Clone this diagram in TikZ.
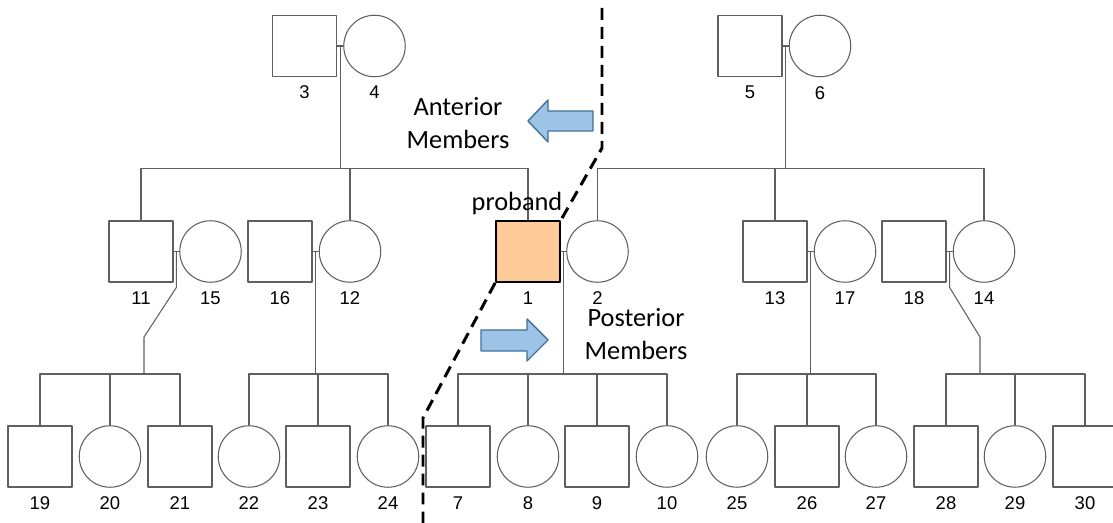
\documentclass[tikz,border=0pt]{standalone}
\usepackage{fontspec}
\setmainfont{Carlito}
\newfontfamily\numfont{Liberation Sans}
\usepackage{tikz}
\usetikzlibrary{calc}
\definecolor{probandfill}{RGB}{255,204,153}
\definecolor{arrowfill}{RGB}{157,195,230}
\definecolor{arrowedge}{RGB}{65,113,156}
\definecolor{kingray}{RGB}{95,95,95}

\begin{document}
\begin{tikzpicture}[line cap=round,line join=round,x=0.02cm,y=-0.02cm, line width=0.6pt,
    male/.style={rectangle, draw=kingray, minimum width=1.28cm, minimum height=1.22cm, inner sep=0pt},
    female/.style={circle, draw=kingray, minimum size=1.23cm, inner sep=0pt},
    proband/.style={male, draw=black, fill=probandfill, line width=1pt},
    kin/.style={draw=kingray},
    divider/.style={draw=black, line width=1.7pt, dash pattern=on 6.8pt off 4pt, line cap=butt},
    bigarrow/.style={draw=arrowedge, fill=arrowfill, line width=0.8pt},
    note/.style={align=center, font=\fontsize{15}{18.7}\selectfont},
    every label/.style={font=\numfont\fontsize{10.5}{12}\selectfont, inner sep=0pt},
    label distance=0.17cm]
                    \useasboundingbox (0,0) rectangle (1113,523);

                    \node[male, label={below:3}] (3) at (304.5,46) {};
                    \node[female, label={below:4}] (4) at (374.5,46) {};
                    \node[male, label={below:5}] (5) at (750,46) {};
                    \node[female, label={below:6}] (6) at (820,46) {};
                    \draw[kin] (3) -- (4);
                    \draw[kin] (5) -- (6);

                    \node[male, label={below:11}] (11) at (141,251.5) {};
                    \node[female, label={below:15}] (15) at (210.5,251.5) {};
                    \node[male, label={below:16}] (16) at (280,251.5) {};
                    \node[female, label={below:12}] (12) at (350,251.5) {};
                    \node[proband, label={below:1}] (1) at (528,251.5) {};
                    \node[female, label={below:2}] (2) at (597.5,251.5) {};
                    \node[male, label={below:13}] (13) at (775,251.5) {};
                    \node[female, label={below:17}] (17) at (845,251.5) {};
                    \node[male, label={below:18}] (18) at (914,251.5) {};
                    \node[female, label={below:14}] (14) at (984,251.5) {};

                    \draw[kin] ($(3.east)!0.5!(4.west)$) -- ++(0,122.5) coordinate (s34);
                    \draw[kin] (11.north) |- (s34) -| (1.north);
                    \draw[kin] (12.north) -- (12.north |- s34);
                    \draw[kin] ($(5.east)!0.5!(6.west)$) -- ++(0,122.5) coordinate (s56);
                    \draw[kin] (2.north) |- (s56) -| (14.north);
                    \draw[kin] (13.north) -- (13.north |- s56);

                    \node[male, label={below:19}] (19) at (40,456.5) {};
                    \node[female, label={below:20}] (20) at (110,456.5) {};
                    \node[male, label={below:21}] (21) at (180,456.5) {};
                    \node[female, label={below:22}] (22) at (249,456.5) {};
                    \node[male, label={below:23}] (23) at (318,456.5) {};
                    \node[female, label={below:24}] (24) at (388,456.5) {};
                    \node[male, label={below:7}] (7) at (458,456.5) {};
                    \node[female, label={below:8}] (8) at (528,456.5) {};
                    \node[male, label={below:9}] (9) at (597,456.5) {};
                    \node[female, label={below:10}] (10) at (667,456.5) {};
                    \node[female, label={below:25}] (25) at (737,456.5) {};
                    \node[male, label={below:26}] (26) at (807,456.5) {};
                    \node[female, label={below:27}] (27) at (876,456.5) {};
                    \node[male, label={below:28}] (28) at (946,456.5) {};
                    \node[female, label={below:29}] (29) at (1015,456.5) {};
                    \node[male, label={below:30}] (30) at (1085,456.5) {};

                    \draw[kin] (11) -- (15);
                    \coordinate (s1115) at (144,374);
                    \draw[kin] ($(11.east)!0.5!(15.west)$) -- ++(0,36) -- ($(s1115)+(0,-37)$) -- (s1115);
                    \draw[kin] (19.north) |- (s1115) -| (21.north);
                    \draw[kin] (20.north) -- (20.north |- s1115);

                    \draw[kin] (16) -- (12);
                    \draw[kin] ($(16.east)!0.5!(12.west)$) -- ++(0,122.5) coordinate (s1612);
                    \draw[kin] (22.north) |- (s1612) -| (24.north);
                    \draw[kin] (23.north) -- (23.north |- s1612);

                    \draw[kin] (1) -- (2);
                    \draw[kin] ($(1.east)!0.5!(2.west)$) -- ++(0,122.5) coordinate (s12);
                    \draw[kin] (7.north) |- (s12) -| (10.north);
                    \draw[kin] (8.north) -- (8.north |- s12);
                    \draw[kin] (9.north) -- (9.north |- s12);

                    \draw[kin] (13) -- (17);
                    \draw[kin] ($(13.east)!0.5!(17.west)$) -- ++(0,122.5) coordinate (s1317);
                    \draw[kin] (25.north) |- (s1317) -| (27.north);
                    \draw[kin] (26.north) -- (26.north |- s1317);

                    \draw[kin] (18) -- (14);
                    \coordinate (s1814) at (980,374);
                    \draw[kin] ($(18.east)!0.5!(14.west)$) -- ++(0,36) -- ($(s1814)+(0,-37)$) -- (s1814);
                    \draw[kin] (28.north) |- (s1814) -| (30.north);
                    \draw[kin] (29.north) -- (29.north |- s1814);

                    \draw[divider] (602,8) -- (602,148) -- (1.north east);
                    \draw[divider] (1.south west) -- (423,418) -- (423,523);

                    \draw[bigarrow] (593,111) -- (548,111) -- (548,100) -- (528,121) -- (548,142) -- (548,131) -- (593,131) -- cycle;
                    \draw[bigarrow] (481,330) -- (527,330) -- (527,319) -- (548,340) -- (527,361) -- (527,351) -- (481,351) -- cycle;

                    \node[note] (anterior) at (458,123) {Anterior\\Members};
                    \node[note] (posterior) at (636,334) {Posterior\\Members};
                    \node[note] (probandtext) at (517,203) {proband};
                \end{tikzpicture}
\end{document}
